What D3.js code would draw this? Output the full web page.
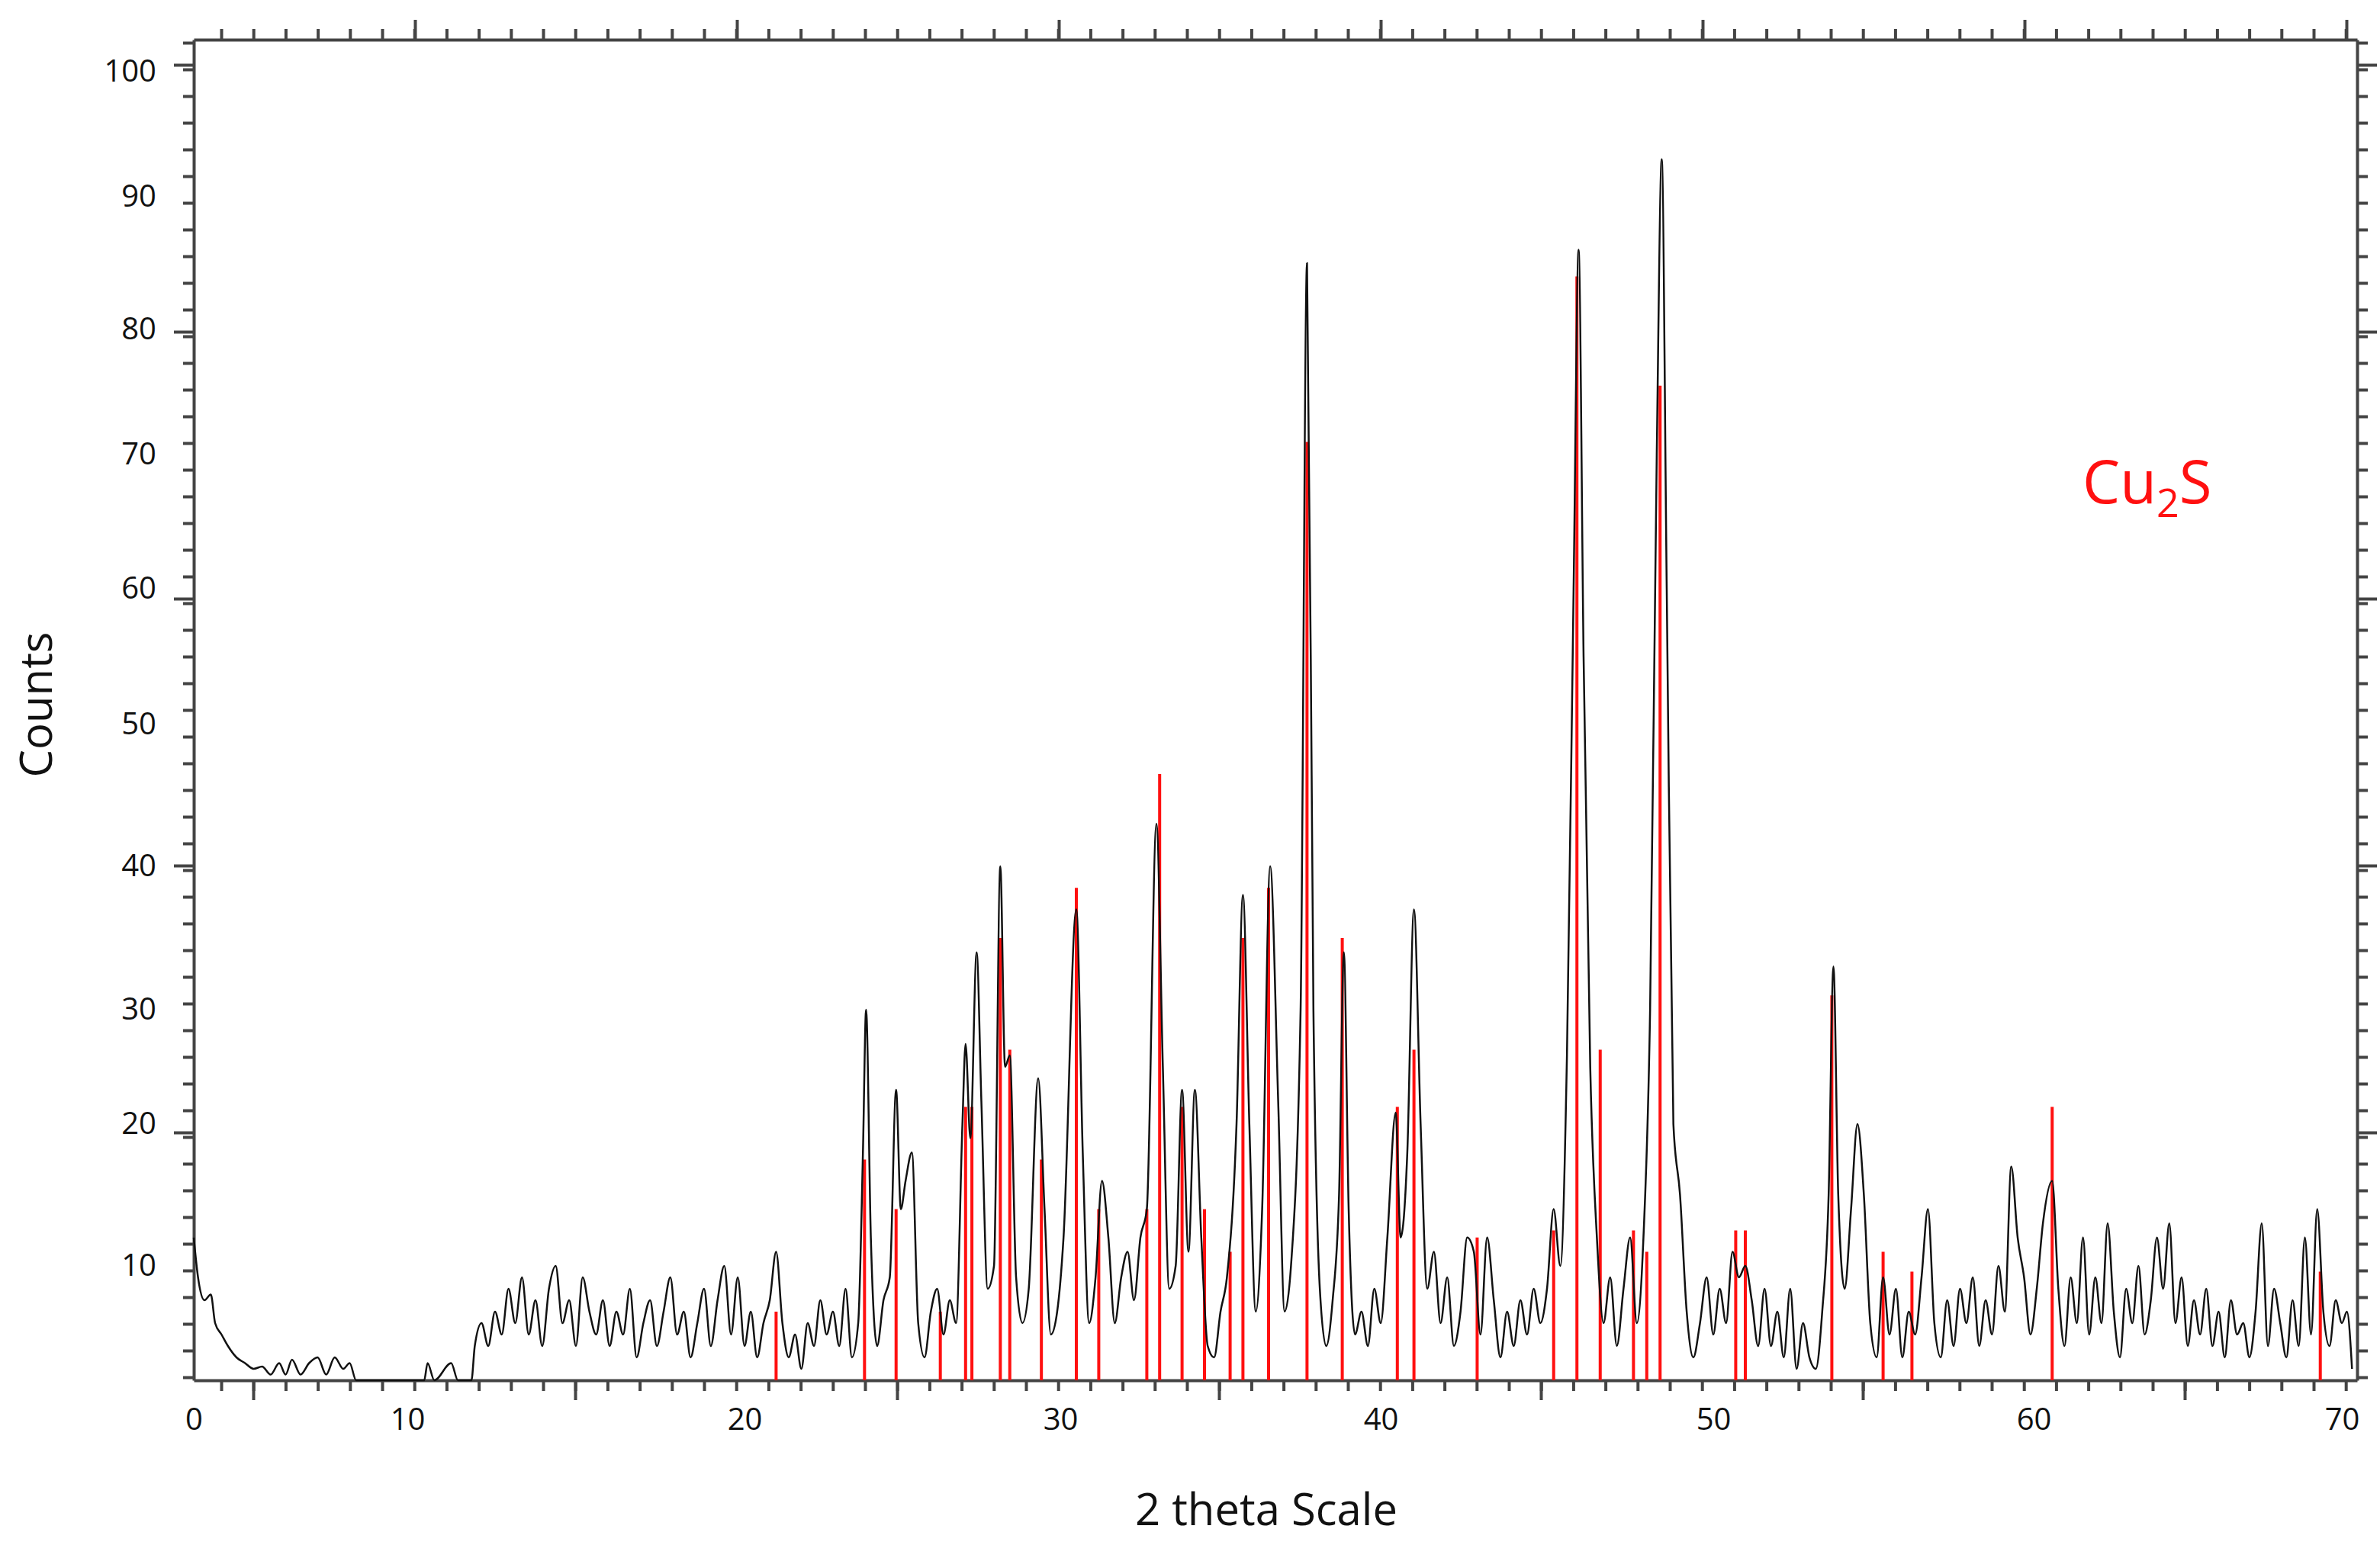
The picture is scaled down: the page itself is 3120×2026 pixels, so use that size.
<!DOCTYPE html>
<html lang="en">
<head>
<meta charset="utf-8">
<title>XRD Cu2S</title>
<script src="https://cdn.jsdelivr.net/npm/d3@7"></script>
<style>
  body { margin: 0; background: #fff; }
  text { font-family: "Open Sans", "Noto Sans", sans-serif; }
</style>
</head>
<body>
<script>
// axis label values and where the original figure printed them
var xLabels = [0, 10, 20, 30, 40, 50, 60, 70];
var yLabels = [10, 20, 30, 40, 50, 60, 70, 80, 90, 100];

// measured pattern: [2theta, counts]
var profile = [
  [0,12],[0.2,9],[0.5,7],[0.8,7.5],[1,5],[1.3,4],[1.6,3],[2,2],[2.4,1.5],[2.8,1],[3.2,1.2],[3.6,0.5],
  [4,1.5],[4.3,0.5],[4.6,1.8],[5,0.5],[5.4,1.5],[5.8,2],[6.2,0.5],[6.6,2],[7,1],[7.3,1.5],[7.6,0],
  [10.5,0],[10.6,1.5],[10.8,0],[11.3,1.5],[11.5,0],[11.9,0],
  [12,3],[12.2,5],[12.4,3],[12.6,6],[12.8,4],[13,8],[13.2,5],[13.4,9],[13.6,4],[13.8,7],[14,3],[14.2,8],
  [14.4,10],[14.6,5],[14.8,7],[15,3],[15.2,9],[15.4,6],[15.6,4],[15.8,7],[16,3],[16.2,6],[16.4,4],[16.6,8],
  [16.8,2],[17,5],[17.2,7],[17.4,3],[17.6,6],[17.8,9],[18,4],[18.2,6],[18.4,2],[18.6,5],[18.8,8],[19,3],
  [19.2,7],[19.4,10],[19.6,4],[19.8,9],[20,3],[20.2,6],[20.4,2],[20.6,5],[20.8,7],[21,11],[21.2,5],[21.4,2],
  [21.6,4],[21.8,1],[22,5],[22.2,3],[22.4,7],[22.6,4],[22.8,6],[23,3],[23.2,8],[23.4,2],[23.6,5],[23.75,18],
  [23.85,30],[24,12],[24.2,3],[24.4,7],[24.6,9],[24.8,23],[24.95,14],[25.1,16],[25.3,18],[25.5,5],[25.7,2],
  [25.9,6],[26.1,8],[26.3,4],[26.5,7],[26.7,5],[26.9,20],[27.0,27],[27.15,19],[27.35,34],[27.5,22],[27.7,8],
  [27.9,10],[28.1,40],[28.25,25],[28.4,26],[28.6,9],[28.8,5],[29.0,8],[29.3,24],[29.5,14],[29.7,4],[29.9,6],
  [30.1,12],[30.5,37],[30.7,18],[30.9,5],[31.1,9],[31.3,16],[31.5,12],[31.7,5],[31.9,9],[32.1,11],[32.3,7],
  [32.5,12],[32.7,14],[33.0,43],[33.2,25],[33.4,8],[33.6,10],[33.8,23],[34.0,11],[34.2,23],[34.4,12],[34.6,3],
  [34.8,2],[35.0,6],[35.2,9],[35.5,20],[35.7,38],[35.9,20],[36.1,6],[36.3,14],[36.55,40],[36.8,22],[37.0,6],
  [37.2,10],[37.5,30],[37.7,85],[37.9,30],[38.1,8],[38.3,3],[38.5,7],[38.7,15],[38.85,34],[39.0,14],[39.2,4],
  [39.4,6],[39.6,3],[39.8,8],[40.0,5],[40.2,12],[40.45,21],[40.6,12],[40.8,18],[41.0,37],[41.2,20],[41.4,8],
  [41.6,11],[41.8,5],[42.0,9],[42.2,3],[42.4,6],[42.6,12],[42.8,11],[43.0,4],[43.2,12],[43.4,7],[43.6,2],
  [43.8,6],[44.0,3],[44.2,7],[44.4,4],[44.6,8],[44.8,5],[45.0,8],[45.2,14],[45.4,10],[45.6,26],[45.8,60],
  [45.95,86],[46.1,55],[46.3,25],[46.5,12],[46.7,5],[46.9,9],[47.1,3],[47.3,8],[47.5,12],[47.7,5],[47.9,12],
  [48.1,30],[48.3,70],[48.45,93],[48.6,60],[48.8,20],[49.0,15],[49.2,6],[49.4,2],[49.6,5],[49.8,9],[50.0,4],
  [50.2,8],[50.4,5],[50.6,11],[50.8,9],[51.0,10],[51.2,7],[51.4,3],[51.6,8],[51.8,3],[52.0,6],[52.2,2],
  [52.4,8],[52.6,1],[52.8,5],[53.0,2],[53.2,1],[53.4,6],[53.6,15],[53.75,33],[53.9,15],[54.1,8],[54.3,14],
  [54.5,20],[54.7,15],[54.9,5],[55.1,2],[55.3,9],[55.5,4],[55.7,8],[55.9,2],[56.1,6],[56.3,4],[56.5,9],
  [56.7,14],[56.9,5],[57.1,2],[57.3,7],[57.5,3],[57.7,8],[57.9,5],[58.1,9],[58.3,3],[58.5,7],[58.7,4],
  [58.9,10],[59.1,6],[59.3,17],[59.5,12],[59.7,9],[59.9,4],[60.1,8],[60.3,13],[60.6,16],[60.8,8],[61.0,3],
  [61.2,9],[61.4,5],[61.6,12],[61.8,4],[62.0,9],[62.2,5],[62.4,13],[62.6,6],[62.8,2],[63.0,8],[63.2,5],
  [63.4,10],[63.6,4],[63.8,7],[64.0,12],[64.2,8],[64.4,13],[64.6,5],[64.8,9],[65.0,3],[65.2,7],[65.4,4],
  [65.6,8],[65.8,3],[66.0,6],[66.2,2],[66.4,7],[66.6,4],[66.8,5],[67.0,2],[67.2,6],[67.4,13],[67.6,3],
  [67.8,8],[68.0,5],[68.2,2],[68.4,7],[68.6,3],[68.8,12],[69.0,4],[69.2,14],[69.4,6],[69.6,3],[69.8,7],
  [70.0,5],[70.2,6],[70.4,1]
];

// Cu2S reference sticks: positions and intensities
var stickPos = [21.0, 23.8, 24.8, 26.2, 27.0, 27.2, 28.1, 28.4, 29.4, 30.5, 31.2, 32.7, 33.1, 33.8, 34.5,
  35.3, 35.7, 36.5, 37.7, 38.8, 40.5, 41.0, 42.9, 45.2, 45.9, 46.6, 47.6, 48.0, 48.4, 50.7, 51.0, 53.7,
  55.3, 56.2, 60.6, 69.3];
var stickInt = [6, 17.5, 14, 6, 21.5, 21.5, 35, 26.5, 17.5, 38.5, 14, 14, 46.5, 21.5, 14,
  11, 35, 38.5, 71, 35, 21.5, 26.5, 12, 12.5, 84, 26.5, 12.5, 11, 75.5, 12.5, 12.5, 31,
  11, 9.5, 21.5, 9.5];

var W = 3120, H = 2026;
var padL = 254, padR = 3090, padT = 52, padB = 1810;

var svg = d3.select("body").append("svg").attr("width", W).attr("height", H);

// the printed labels are unevenly spaced, so the scales go through them piecewise
var x = d3.scaleLinear()
    .domain([0, 10, 20, 30, 40, 50, 60, 70, 70.6])
    .range([254, 534, 976, 1390, 1810, 2246, 2666, 3070, 3090])
    .clamp(true);
var y = d3.scaleLinear()
    .domain([0, 10, 20, 30, 40, 50, 60, 70, 80, 90, 100, 103])
    .range([1810, 1660, 1474, 1324, 1136, 950, 772, 596, 432, 258, 94, 52]);

// frame ticks (evenly spaced in the page, not tied to labels)
var fx = d3.scaleLinear().domain([padL, padR]).range([padL, padR]);
var fy = d3.scaleLinear().domain([padT, padB]).range([padT, padB]);
function tickAxis(axisFn, sc, vals, size, tr, keepDomain) {
  var g = svg.append("g").attr("transform", tr)
    .call(axisFn(sc).tickValues(vals).tickSize(size).tickSizeOuter(0).tickFormat(""));
  if (!keepDomain) g.select(".domain").remove();
  g.selectAll("line, path").attr("stroke", "#444").attr("stroke-width", 4);
}
var hMinor = d3.range(padL + 36, padR, 42.2);
var bMajor = d3.range(332, padR, 422);
var tMajor = d3.range(544, padR, 422);
var vMinor = d3.range(padT + 4, padB, 35);
var vMajor = d3.range(85, padB, 350);
tickAxis(d3.axisBottom, fx, hMinor, 14, "translate(0," + padB + ")", true);
tickAxis(d3.axisBottom, fx, bMajor, 26, "translate(0," + padB + ")");
tickAxis(d3.axisTop, fx, hMinor, 14, "translate(0," + padT + ")", true);
tickAxis(d3.axisTop, fx, tMajor, 26, "translate(0," + padT + ")");
tickAxis(d3.axisLeft, fy, vMinor, 14, "translate(" + padL + ",0)", true);
tickAxis(d3.axisLeft, fy, vMajor, 26, "translate(" + padL + ",0)");
tickAxis(d3.axisRight, fy, vMinor, 14, "translate(" + padR + ",0)", true);
tickAxis(d3.axisRight, fy, vMajor, 26, "translate(" + padR + ",0)");

// tick labels
svg.append("g").attr("transform", "translate(0," + (padB + 34) + ")")
  .call(d3.axisBottom(x).tickValues(xLabels).tickSize(0).tickFormat(d3.format("d")))
  .call(function(g) {
    g.select(".domain").remove();
    g.selectAll("text").attr("font-size", 40).attr("fill", "#111")
      .attr("font-family", "'Open Sans', sans-serif");
  });
svg.append("g").attr("transform", "translate(" + (padL - 46) + ",0)")
  .call(d3.axisLeft(y).tickValues(yLabels).tickSize(0).tickFormat(d3.format("d")))
  .call(function(g) {
    g.select(".domain").remove();
    g.selectAll("text").attr("font-size", 40).attr("fill", "#111")
      .attr("font-family", "'Open Sans', sans-serif");
  });

// axis titles
svg.append("text").attr("x", 1660).attr("y", 2000).attr("text-anchor", "middle")
  .attr("font-size", 58).attr("fill", "#111").text("2 theta Scale");
svg.append("text").attr("transform", "translate(68,924) rotate(-90)").attr("text-anchor", "middle")
  .attr("font-size", 58).attr("fill", "#111").text("Counts");

// reference sticks
svg.append("g").selectAll("line").data(stickPos).enter().append("line")
  .attr("x1", function(d) { return x(d); })
  .attr("x2", function(d) { return x(d); })
  .attr("y1", y(0))
  .attr("y2", function(d, i) { return y(stickInt[i]); })
  .attr("stroke", "#ff1010").attr("stroke-width", 4);

// measured pattern
var line = d3.line()
  .curve(d3.curveMonotoneX)
  .x(function(d) { return x(d[0]); })
  .y(function(d) { return y(d[1]); });
svg.append("path").datum(profile)
  .attr("d", line)
  .attr("fill", "none").attr("stroke", "#111").attr("stroke-width", 2.5)
  .attr("stroke-linejoin", "round");

// phase label
var lab = svg.append("text").attr("x", 2730).attr("y", 660)
  .attr("font-size", 78).attr("fill", "#ff1010");
lab.append("tspan").text("Cu");
lab.append("tspan").attr("font-size", 52).attr("dy", 18).text("2");
lab.append("tspan").attr("dy", -18).text("S");
</script>
</body>
</html>
